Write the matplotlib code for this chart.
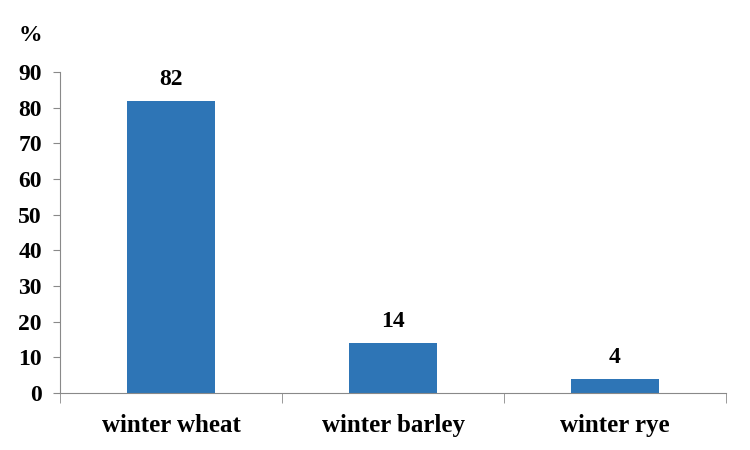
import numpy as np
import matplotlib
matplotlib.use('Agg')
import matplotlib.pyplot as plt

crops = ['winter wheat', 'winter barley', 'winter rye']
shares = [82, 14, 4]
yticks = [0, 10, 20, 30, 40, 50, 60, 70, 80, 90]

plt.rcParams['font.family'] = ['Liberation Serif', 'DejaVu Serif']
plt.rcParams['font.weight'] = 'bold'

fig = plt.figure(figsize=(7.5, 4.5), dpi=100)
ax = fig.add_axes([0.080, 0.127, 0.888, 0.713])

x = np.arange(len(crops))
bars = ax.bar(x, shares, width=0.4, color='#2E75B6')
for xi, v in zip(x, shares):
    ax.text(xi, v + 3, str(v), ha='center', va='bottom',
            fontsize=17, fontweight='bold')

ax.set_xlim(-0.5, len(crops) - 0.5)
ax.set_ylim(0, 90)
ax.set_yticks(yticks)
ax.tick_params(axis='y', labelsize=17, length=5, color='#898989', pad=8)

# category names without ticks, boundary ticks on the axis
ax.set_xticks(x)
ax.set_xticklabels(crops, fontsize=18, fontweight='bold')
ax.tick_params(axis='x', length=0, pad=15)
ax.set_xticks(np.arange(-0.5, len(crops)), minor=True)
ax.tick_params(axis='x', which='minor', length=7, color='#898989')

for s in ['top', 'right']:
    ax.spines[s].set_visible(False)
for s in ['left', 'bottom']:
    ax.spines[s].set_color('#898989')

fig.text(0.04, 0.922, '%', ha='center', va='center', fontsize=17, fontweight='bold')

fig.savefig('out.png', dpi=100)
